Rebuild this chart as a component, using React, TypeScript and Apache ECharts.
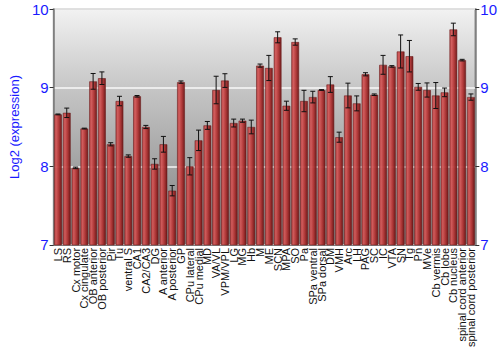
import React, { useEffect, useRef } from "react";
import * as echarts from "echarts";

const categories = [
  "LS", "RS", "Cx motor", "Cx cingulate", "OB anterior", "OB posterior", "Pir", "Tu",
  "ventral S", "CA1", "CA2/CA3", "DG", "A anterior", "A posterior", "GP", "CPu lateral",
  "CPu medial", "MD", "VA/VL", "VPM/VPL", "LG", "MG", "Hb", "M", "ME", "SCN", "MPA", "SO",
  "Pa", "SPa ventral", "SPa dorsal", "DM", "VMH", "Arc", "LH", "PAG", "SC", "IC", "VTA",
  "SN", "Tg", "Pn", "MVe", "Cb vermis", "Cb lobe", "Cb nucleus", "spinal cord anterior",
  "spinal cord posterior",
];

const values = [
  8.66, 8.68, 7.98, 8.48, 9.08, 9.12, 8.28, 8.83,
  8.13, 8.89, 8.5, 8.03, 8.28, 7.69, 9.07, 8.0,
  8.33, 8.52, 8.97, 9.09, 8.55, 8.58, 8.5, 9.28, 9.25, 9.64, 8.77, 9.58,
  8.83, 8.88, 8.97, 9.04, 8.37, 8.9, 8.8, 9.17, 8.91, 9.29, 9.27,
  9.46, 9.4, 9.01, 8.97, 8.9, 8.94, 9.74, 9.35,
  8.88,
];

const errors = [
  0.005, 0.06, 0.01, 0.005, 0.1, 0.08, 0.02, 0.06,
  0.015, 0.01, 0.02, 0.066, 0.1, 0.066, 0.015, 0.11,
  0.13, 0.05, 0.175, 0.087, 0.05, 0.02, 0.087, 0.02, 0.16, 0.07, 0.058, 0.04,
  0.136, 0.074, 0.005, 0.1, 0.064, 0.157, 0.095, 0.02, 0.01, 0.12, 0.01,
  0.21, 0.2, 0.043, 0.09, 0.165, 0.055, 0.08, 0.01,
  0.04,
];

const yTicks = { min: 7, max: 10, interval: 1 };

export default function App() {
  const ref = useRef<HTMLDivElement>(null);
  useEffect(() => {
    if (!ref.current) return;
    const chart = echarts.init(ref.current, undefined, { renderer: "svg" });
    const errData = values.map((v, i) => [i, v - errors[i], v + errors[i]]);
    const blue = "#1a1aff";
    const yAxisCommon = {
      type: "value",
      min: yTicks.min,
      max: yTicks.max,
      interval: yTicks.interval,
      axisLine: { show: true, lineStyle: { color: "#808080", width: 1.5 } },
      axisTick: { show: true, length: 4, lineStyle: { color: "#333" } },
      axisLabel: { color: blue, fontSize: 15, fontFamily: "Liberation Sans", margin: 5 },
    };
    chart.setOption({
      animation: false,
      grid: {
        left: 35,
        right: 19,
        top: 9,
        bottom: 99,
        show: true,
        borderColor: "#808080",
        borderWidth: 1.5,
        backgroundColor: new echarts.graphic.LinearGradient(0, 0, 0, 1, [
          { offset: 0, color: "#f2f2f2" },
          { offset: 0.35, color: "#c4c4c4" },
          { offset: 1, color: "#7e7e7e" },
        ]),
      },
      xAxis: {
        type: "category",
        data: categories,
        axisLine: { show: true, lineStyle: { color: "#808080" } },
        axisTick: { show: false },
        axisLabel: {
          interval: 0,
          rotate: 90,
          color: "#111",
          fontSize: 11,
          fontFamily: "Liberation Sans",
          margin: 3,
        },
      },
      yAxis: [
        {
          ...yAxisCommon,
          position: "left",
          name: "Log2 (expression)",
          nameLocation: "middle",
          nameGap: 25,
          nameTextStyle: { color: blue, fontSize: 13, fontFamily: "Liberation Sans" },
          splitLine: { show: true, lineStyle: { color: "#ffffff", width: 1.5, opacity: 0.9 } },
        },
        {
          ...yAxisCommon,
          position: "right",
          splitLine: { show: false },
        },
      ],
      series: [
        {
          type: "bar",
          data: values,
          barCategoryGap: "12%",
          itemStyle: {
            color: new echarts.graphic.LinearGradient(0, 0, 1, 0, [
              { offset: 0, color: "#b84040" },
              { offset: 0.25, color: "#d25858" },
              { offset: 0.6, color: "#b23434" },
              { offset: 1, color: "#6e1414" },
            ]),
            borderColor: "#6a1a1a",
            borderWidth: 0.6,
            opacity: 0.95,
          },
          z: 2,
        },
        {
          type: "custom",
          data: errData,
          z: 5,
          renderItem: (params: any, api: any) => {
            const i = api.value(0);
            const lo = api.coord([i, api.value(1)]);
            const hi = api.coord([i, api.value(2)]);
            const cap = 2.5;
            const style = { stroke: "#111", lineWidth: 1 };
            return {
              type: "group",
              children: [
                { type: "line", shape: { x1: lo[0], y1: lo[1], x2: hi[0], y2: hi[1] }, style },
                { type: "line", shape: { x1: lo[0] - cap, y1: lo[1], x2: lo[0] + cap, y2: lo[1] }, style },
                { type: "line", shape: { x1: hi[0] - cap, y1: hi[1], x2: hi[0] + cap, y2: hi[1] }, style },
              ],
            };
          },
        },
      ],
    });
    return () => chart.dispose();
  }, []);
  return (
    <div
      ref={ref}
      style={{ position: "absolute", left: 0, top: 0, width: 500, height: 350 }}
    />
  );
}
